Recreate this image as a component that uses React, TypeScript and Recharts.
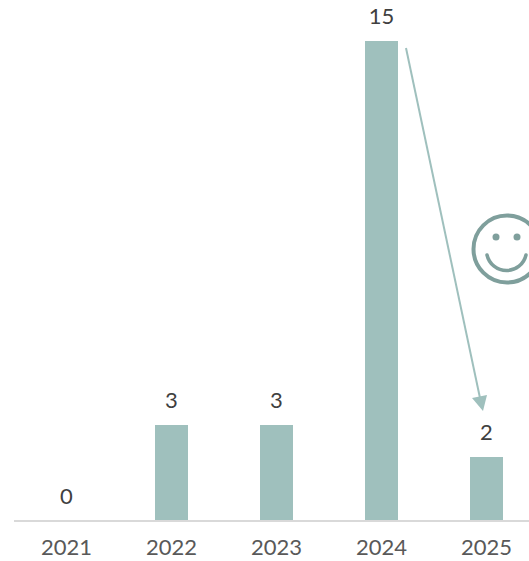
import { ComposedChart, Bar, Line, XAxis, YAxis, LabelList } from 'recharts';

const years = ['2021', '2022', '2023', '2024', '2025'];
const counts = [0, 3, 3, 15, 2];

const chartData = years.map((year, i) => ({ year, count: counts[i] }));

const FONT = 'Lato, "Open Sans", sans-serif';
const BAR_COLOR = '#9fc0bd';
const FACE_COLOR = '#7f9f9c';

export default function App() {
  return (
    <div style={{ position: 'absolute', left: 0, top: 0, width: 529, height: 561, overflow: 'hidden', background: '#fff' }}>
      {/* the plot runs a little past the right edge and gets clipped */}
      <ComposedChart
        width={539}
        height={561}
        data={chartData}
        margin={{ top: 41, right: 0, bottom: 0, left: 14 }}
        barSize={33}
      >
        <XAxis
          dataKey="year"
          height={40}
          axisLine={{ stroke: '#d9d9d9', strokeWidth: 2 }}
          tickLine={false}
          tick={{ fill: '#595959', fontSize: 22, fontFamily: FONT }}
          tickMargin={12}
          interval={0}
        />
        <YAxis hide domain={[0, 15]} />
        <Bar dataKey="count" fill={BAR_COLOR} isAnimationActive={false} />
        {/* invisible line carries the value labels, a zero-height bar would drop its label */}
        <Line dataKey="count" stroke="none" dot={false} activeDot={false} legendType="none" isAnimationActive={false}>
          <LabelList dataKey="count" position="top" offset={17} fill="#404040" fontSize={22} fontFamily={FONT} />
        </Line>
      </ComposedChart>
      {/* arrow from 2024 to 2025 and the smiley, cut off by the right edge */}
      <svg width={529} height={561} style={{ position: 'absolute', left: 0, top: 0, pointerEvents: 'none' }}>
        <line x1={406} y1={48} x2={480} y2={398} stroke={BAR_COLOR} strokeWidth={2} />
        <polygon points="483,411 472,398 487,395" fill={BAR_COLOR} />
        <circle cx={507} cy={249} r={33.5} fill="none" stroke={FACE_COLOR} strokeWidth={4} />
        <circle cx={496} cy={237} r={3.5} fill={FACE_COLOR} />
        <circle cx={517} cy={237} r={3.5} fill={FACE_COLOR} />
        <path d="M487,255 A20,20 0 0 0 526,255" fill="none" stroke={FACE_COLOR} strokeWidth={3.5} strokeLinecap="round" />
      </svg>
    </div>
  );
}
